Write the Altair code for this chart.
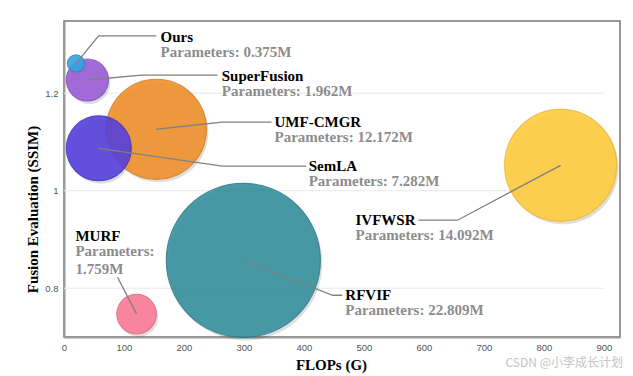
import altair as alt
import pandas as pd

# ---------------- data ----------------
names = ["Ours", "SuperFusion", "UMF-CMGR", "SemLA", "IVFWSR", "RFVIF", "MURF"]
flops = [20, 39, 154, 58, 828, 299, 121]                      # FLOPs (G)
ssim = [1.261, 1.227, 1.126, 1.087, 1.052, 0.857, 0.747]      # SSIM
params = [0.375, 1.962, 12.172, 7.282, 14.092, 22.809, 1.759]  # Parameters (M)
bubble = [0.35, 2.1, 11.9, 5.0, 14.9, 28.2, 1.85]             # plotted bubble value (relative area)
x_ticks = [0, 100, 200, 300, 400, 500, 600, 700, 800, 900]
y_ticks = [0.8, 1.0, 1.2]

# ---------------- styles ----------------
fill_colors = ["#3AA3DE", "#9B5ED6", "#F0912C", "#5540DC", "#FFCD40", "#35919E", "#FB7B96"]
stroke_colors = ["#2A8CC6", "#8450BE", "#D97E20", "#4535C0", "#EDB930", "#2A7C88", "#E56A85"]

# annotation layout (data coordinates of leader-line bends and label anchors)
elbow_x = [57.7, 129, 264, 264, 656, 448, 89.3]
elbow_y = [1.3175, 1.2369, 1.1405, 1.0503, 0.9395, 0.7856, 0.8226]
end_x = [154, 256, 346, 404, 591, 464, 89.3]
label_x = [161, 263, 351, 408, 486, 469, 19]
label_y = [1.316, 1.235, 1.1405, 1.0503, 0.9395, 0.7856, 0.9067]

# ---------------- tables ----------------
def ptext(n, p):
    if n == "MURF":
        return f"Parameters:\n{p:.3f}M"
    return f"Parameters: {p:.3f}M"

bub = pd.DataFrame({"name": names, "x": flops, "y": ssim, "bubble": bubble})
lines = []
for i, n in enumerate(names):
    lines.append({"name": n, "step": 0, "x": flops[i], "y": ssim[i]})
    lines.append({"name": n, "step": 1, "x": elbow_x[i], "y": elbow_y[i]})
    lines.append({"name": n, "step": 2, "x": end_x[i], "y": elbow_y[i]})
lines = pd.DataFrame(lines)
labels = pd.DataFrame({
    "name": names, "x": label_x, "y": label_y,
    "ptext": [ptext(n, p) for n, p in zip(names, params)],
})
grid = pd.DataFrame({"y": y_ticks, "x": [x_ticks[0]] * 3, "x2": [x_ticks[-1]] * 3})

# ---------------- encodings ----------------
X = alt.X("x:Q", scale=alt.Scale(domain=[0, 927], nice=False, zero=False),
          axis=alt.Axis(values=x_ticks, title="FLOPs (G)", grid=False, ticks=False,
                        domainColor="#9a9a9a", domainWidth=2, labelColor="#555",
                        labelFont="Liberation Sans", labelFontSize=9.5, labelPadding=5,
                        labelFlush=False, titleFont="Liberation Serif", titleFontSize=15,
                        titleFontWeight="bold", titleColor="#000", titleX=267, titleY=27,
                        titleBaseline="middle", titleAlign="center"))
Y = alt.Y("y:Q", scale=alt.Scale(domain=[0.7, 1.348], nice=False, zero=False),
          axis=alt.Axis(values=y_ticks, format=".1~f", title="Fusion Evaluation (SSIM)",
                        grid=False, ticks=False, domainColor="#9a9a9a", domainWidth=2,
                        labelColor="#555", labelFont="Liberation Sans", labelFontSize=9.5,
                        labelPadding=6, labelFlush=False, titleFont="Liberation Serif",
                        titleFontSize=15, titleFontWeight="bold", titleColor="#000",
                        titleX=-32, titleY=188, titleBaseline="middle", titleAlign="center",
                        titleAngle=270))
SIZE = alt.Size("bubble:Q", scale=alt.Scale(domain=[0, 30], range=[0, 4 * 14.5 ** 2 * 30]),
                legend=None)
ORDER = alt.Order("bubble:Q", sort="descending")

gridl = alt.Chart(grid).mark_rule(color="#e8e8e8", strokeWidth=1).encode(x=X, x2="x2:Q", y=Y)

shadow = alt.Chart(bub).mark_circle(color="#000", opacity=0.13, xOffset=2, yOffset=3).encode(
    x=X, y=Y, size=SIZE, order=ORDER)

bubbles = alt.Chart(bub).mark_circle(opacity=0.9, strokeWidth=1.2, strokeOpacity=1).encode(
    x=X, y=Y, size=SIZE, order=ORDER,
    color=alt.Color("name:N", scale=alt.Scale(domain=names, range=fill_colors), legend=None),
    stroke=alt.Stroke("name:N", scale=alt.Scale(domain=names, range=stroke_colors), legend=None),
)

leader = alt.Chart(lines).mark_line(color="#808080", strokeWidth=1.3).encode(
    x=X, y=Y, detail="name:N", order="step:Q")

name_text = alt.Chart(labels).mark_text(
    align="left", baseline="middle", font="Liberation Serif", fontWeight="bold",
    fontSize=15, color="#000").encode(x=X, y=Y, text="name:N")

param_text = alt.Chart(labels).mark_text(
    align="left", baseline="middle", font="Liberation Serif", fontWeight="bold",
    fontSize=15, color="#8c8c8c", dy=15, lineBreak="\n", lineHeight=18).encode(
    x=X, y=Y, text="ptext:N")

watermark = alt.Chart(pd.DataFrame({"t": ["CSDN @小李成长计划"]})).mark_text(
    align="right", baseline="middle", font="Noto Sans CJK SC", fontSize=12,
    color="#c4c4c4").encode(x=alt.value(559), y=alt.value(342), text="t:N")

chart = alt.layer(gridl, shadow, bubbles, leader, name_text, param_text, watermark).properties(
    width=556, height=316,
    autosize=alt.AutoSizeParams(type="none"),
    padding={"left": 56, "top": 13, "right": 5, "bottom": 36},
).configure_view(stroke="#777", strokeWidth=1.5)

chart.save("out.html", embed_options={"renderer": "svg", "actions": False})
